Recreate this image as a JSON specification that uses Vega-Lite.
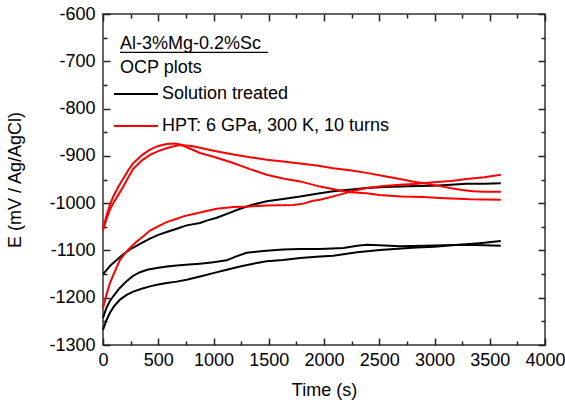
{
  "$schema": "https://vega.github.io/schema/vega-lite/v6.json",
  "width": 442,
  "height": 331,
  "autosize": "none",
  "padding": {"left": 103, "top": 14, "right": 20, "bottom": 59},
  "config": {
    "font": "Liberation Sans",
    "view": {"stroke": "#333", "strokeWidth": 1.5},
    "axis": {
      "grid": false,
      "domain": false,
      "labelFont": "Liberation Sans",
      "labelFontSize": 18,
      "labelColor": "#000",
      "labelOverlap": false,
      "labelFlush": false,
      "titleFont": "Liberation Sans",
      "titleFontSize": 18,
      "titleFontWeight": "normal",
      "titleColor": "#000",
      "tickColor": "#222",
      "tickWidth": 1.5
    }
  },
  "datasets": {
    "black": [
      {"run": "S1", "group": "Solution treated", "t": 0, "v": -1150},
      {"run": "S1", "group": "Solution treated", "t": 30, "v": -1142},
      {"run": "S1", "group": "Solution treated", "t": 63, "v": -1133},
      {"run": "S1", "group": "Solution treated", "t": 124, "v": -1120},
      {"run": "S1", "group": "Solution treated", "t": 184, "v": -1108},
      {"run": "S1", "group": "Solution treated", "t": 244, "v": -1098},
      {"run": "S1", "group": "Solution treated", "t": 335, "v": -1086},
      {"run": "S1", "group": "Solution treated", "t": 425, "v": -1075},
      {"run": "S1", "group": "Solution treated", "t": 500, "v": -1067},
      {"run": "S1", "group": "Solution treated", "t": 576, "v": -1061},
      {"run": "S1", "group": "Solution treated", "t": 667, "v": -1054},
      {"run": "S1", "group": "Solution treated", "t": 757, "v": -1047},
      {"run": "S1", "group": "Solution treated", "t": 878, "v": -1042},
      {"run": "S1", "group": "Solution treated", "t": 938, "v": -1037},
      {"run": "S1", "group": "Solution treated", "t": 1029, "v": -1031},
      {"run": "S1", "group": "Solution treated", "t": 1140, "v": -1021},
      {"run": "S1", "group": "Solution treated", "t": 1240, "v": -1012},
      {"run": "S1", "group": "Solution treated", "t": 1360, "v": -1003},
      {"run": "S1", "group": "Solution treated", "t": 1481, "v": -996},
      {"run": "S1", "group": "Solution treated", "t": 1630, "v": -991},
      {"run": "S1", "group": "Solution treated", "t": 1783, "v": -986},
      {"run": "S1", "group": "Solution treated", "t": 1964, "v": -979},
      {"run": "S1", "group": "Solution treated", "t": 2084, "v": -975},
      {"run": "S1", "group": "Solution treated", "t": 2250, "v": -971},
      {"run": "S1", "group": "Solution treated", "t": 2386, "v": -968},
      {"run": "S1", "group": "Solution treated", "t": 2550, "v": -966},
      {"run": "S1", "group": "Solution treated", "t": 2688, "v": -965},
      {"run": "S1", "group": "Solution treated", "t": 2850, "v": -964},
      {"run": "S1", "group": "Solution treated", "t": 2990, "v": -963},
      {"run": "S1", "group": "Solution treated", "t": 3150, "v": -961},
      {"run": "S1", "group": "Solution treated", "t": 3290, "v": -959},
      {"run": "S1", "group": "Solution treated", "t": 3450, "v": -959},
      {"run": "S1", "group": "Solution treated", "t": 3600, "v": -958},

      {"run": "S2", "group": "Solution treated", "t": 0, "v": -1243},
      {"run": "S2", "group": "Solution treated", "t": 30, "v": -1222},
      {"run": "S2", "group": "Solution treated", "t": 60, "v": -1208},
      {"run": "S2", "group": "Solution treated", "t": 93, "v": -1197},
      {"run": "S2", "group": "Solution treated", "t": 150, "v": -1180},
      {"run": "S2", "group": "Solution treated", "t": 214, "v": -1165},
      {"run": "S2", "group": "Solution treated", "t": 270, "v": -1154},
      {"run": "S2", "group": "Solution treated", "t": 335, "v": -1146},
      {"run": "S2", "group": "Solution treated", "t": 400, "v": -1141},
      {"run": "S2", "group": "Solution treated", "t": 486, "v": -1137},
      {"run": "S2", "group": "Solution treated", "t": 580, "v": -1134},
      {"run": "S2", "group": "Solution treated", "t": 667, "v": -1132},
      {"run": "S2", "group": "Solution treated", "t": 780, "v": -1130},
      {"run": "S2", "group": "Solution treated", "t": 878, "v": -1128},
      {"run": "S2", "group": "Solution treated", "t": 1000, "v": -1125},
      {"run": "S2", "group": "Solution treated", "t": 1119, "v": -1121},
      {"run": "S2", "group": "Solution treated", "t": 1200, "v": -1113},
      {"run": "S2", "group": "Solution treated", "t": 1300, "v": -1105},
      {"run": "S2", "group": "Solution treated", "t": 1450, "v": -1101},
      {"run": "S2", "group": "Solution treated", "t": 1631, "v": -1098},
      {"run": "S2", "group": "Solution treated", "t": 1783, "v": -1097},
      {"run": "S2", "group": "Solution treated", "t": 1964, "v": -1097},
      {"run": "S2", "group": "Solution treated", "t": 2175, "v": -1095},
      {"run": "S2", "group": "Solution treated", "t": 2300, "v": -1090},
      {"run": "S2", "group": "Solution treated", "t": 2386, "v": -1088},
      {"run": "S2", "group": "Solution treated", "t": 2500, "v": -1089},
      {"run": "S2", "group": "Solution treated", "t": 2688, "v": -1091},
      {"run": "S2", "group": "Solution treated", "t": 2900, "v": -1090},
      {"run": "S2", "group": "Solution treated", "t": 3100, "v": -1089},
      {"run": "S2", "group": "Solution treated", "t": 3300, "v": -1088},
      {"run": "S2", "group": "Solution treated", "t": 3450, "v": -1089},
      {"run": "S2", "group": "Solution treated", "t": 3600, "v": -1090},

      {"run": "S3", "group": "Solution treated", "t": 0, "v": -1268},
      {"run": "S3", "group": "Solution treated", "t": 30, "v": -1248},
      {"run": "S3", "group": "Solution treated", "t": 63, "v": -1232},
      {"run": "S3", "group": "Solution treated", "t": 100, "v": -1218},
      {"run": "S3", "group": "Solution treated", "t": 154, "v": -1204},
      {"run": "S3", "group": "Solution treated", "t": 214, "v": -1194},
      {"run": "S3", "group": "Solution treated", "t": 274, "v": -1187},
      {"run": "S3", "group": "Solution treated", "t": 350, "v": -1181},
      {"run": "S3", "group": "Solution treated", "t": 425, "v": -1176},
      {"run": "S3", "group": "Solution treated", "t": 500, "v": -1172},
      {"run": "S3", "group": "Solution treated", "t": 576, "v": -1169},
      {"run": "S3", "group": "Solution treated", "t": 667, "v": -1166},
      {"run": "S3", "group": "Solution treated", "t": 757, "v": -1162},
      {"run": "S3", "group": "Solution treated", "t": 878, "v": -1155},
      {"run": "S3", "group": "Solution treated", "t": 998, "v": -1148},
      {"run": "S3", "group": "Solution treated", "t": 1120, "v": -1141},
      {"run": "S3", "group": "Solution treated", "t": 1240, "v": -1134},
      {"run": "S3", "group": "Solution treated", "t": 1360, "v": -1128},
      {"run": "S3", "group": "Solution treated", "t": 1481, "v": -1123},
      {"run": "S3", "group": "Solution treated", "t": 1630, "v": -1120},
      {"run": "S3", "group": "Solution treated", "t": 1783, "v": -1116},
      {"run": "S3", "group": "Solution treated", "t": 1964, "v": -1113},
      {"run": "S3", "group": "Solution treated", "t": 2084, "v": -1111},
      {"run": "S3", "group": "Solution treated", "t": 2300, "v": -1104},
      {"run": "S3", "group": "Solution treated", "t": 2507, "v": -1099},
      {"run": "S3", "group": "Solution treated", "t": 2700, "v": -1096},
      {"run": "S3", "group": "Solution treated", "t": 2838, "v": -1094},
      {"run": "S3", "group": "Solution treated", "t": 3000, "v": -1092},
      {"run": "S3", "group": "Solution treated", "t": 3150, "v": -1089},
      {"run": "S3", "group": "Solution treated", "t": 3290, "v": -1087},
      {"run": "S3", "group": "Solution treated", "t": 3450, "v": -1084},
      {"run": "S3", "group": "Solution treated", "t": 3600, "v": -1080}
    ],
    "red": [
      {"run": "H1", "group": "HPT: 6 GPa, 300 K, 10 turns", "t": 0, "v": -1055},
      {"run": "H1", "group": "HPT: 6 GPa, 300 K, 10 turns", "t": 30, "v": -1028},
      {"run": "H1", "group": "HPT: 6 GPa, 300 K, 10 turns", "t": 60, "v": -1005},
      {"run": "H1", "group": "HPT: 6 GPa, 300 K, 10 turns", "t": 93, "v": -986},
      {"run": "H1", "group": "HPT: 6 GPa, 300 K, 10 turns", "t": 140, "v": -965},
      {"run": "H1", "group": "HPT: 6 GPa, 300 K, 10 turns", "t": 184, "v": -948},
      {"run": "H1", "group": "HPT: 6 GPa, 300 K, 10 turns", "t": 230, "v": -930},
      {"run": "H1", "group": "HPT: 6 GPa, 300 K, 10 turns", "t": 272, "v": -916},
      {"run": "H1", "group": "HPT: 6 GPa, 300 K, 10 turns", "t": 350, "v": -899},
      {"run": "H1", "group": "HPT: 6 GPa, 300 K, 10 turns", "t": 425, "v": -887},
      {"run": "H1", "group": "HPT: 6 GPa, 300 K, 10 turns", "t": 500, "v": -879},
      {"run": "H1", "group": "HPT: 6 GPa, 300 K, 10 turns", "t": 576, "v": -875},
      {"run": "H1", "group": "HPT: 6 GPa, 300 K, 10 turns", "t": 650, "v": -874},
      {"run": "H1", "group": "HPT: 6 GPa, 300 K, 10 turns", "t": 700, "v": -876},
      {"run": "H1", "group": "HPT: 6 GPa, 300 K, 10 turns", "t": 780, "v": -884},
      {"run": "H1", "group": "HPT: 6 GPa, 300 K, 10 turns", "t": 878, "v": -894},
      {"run": "H1", "group": "HPT: 6 GPa, 300 K, 10 turns", "t": 1000, "v": -902},
      {"run": "H1", "group": "HPT: 6 GPa, 300 K, 10 turns", "t": 1179, "v": -915},
      {"run": "H1", "group": "HPT: 6 GPa, 300 K, 10 turns", "t": 1330, "v": -928},
      {"run": "H1", "group": "HPT: 6 GPa, 300 K, 10 turns", "t": 1481, "v": -940},
      {"run": "H1", "group": "HPT: 6 GPa, 300 K, 10 turns", "t": 1630, "v": -948},
      {"run": "H1", "group": "HPT: 6 GPa, 300 K, 10 turns", "t": 1783, "v": -954},
      {"run": "H1", "group": "HPT: 6 GPa, 300 K, 10 turns", "t": 1964, "v": -965},
      {"run": "H1", "group": "HPT: 6 GPa, 300 K, 10 turns", "t": 2100, "v": -971},
      {"run": "H1", "group": "HPT: 6 GPa, 300 K, 10 turns", "t": 2235, "v": -977},
      {"run": "H1", "group": "HPT: 6 GPa, 300 K, 10 turns", "t": 2386, "v": -979},
      {"run": "H1", "group": "HPT: 6 GPa, 300 K, 10 turns", "t": 2500, "v": -983},
      {"run": "H1", "group": "HPT: 6 GPa, 300 K, 10 turns", "t": 2700, "v": -986},
      {"run": "H1", "group": "HPT: 6 GPa, 300 K, 10 turns", "t": 2900, "v": -987},
      {"run": "H1", "group": "HPT: 6 GPa, 300 K, 10 turns", "t": 3050, "v": -989},
      {"run": "H1", "group": "HPT: 6 GPa, 300 K, 10 turns", "t": 3321, "v": -992},
      {"run": "H1", "group": "HPT: 6 GPa, 300 K, 10 turns", "t": 3600, "v": -993},

      {"run": "H2", "group": "HPT: 6 GPa, 300 K, 10 turns", "t": 0, "v": -1058},
      {"run": "H2", "group": "HPT: 6 GPa, 300 K, 10 turns", "t": 30, "v": -1035},
      {"run": "H2", "group": "HPT: 6 GPa, 300 K, 10 turns", "t": 60, "v": -1015},
      {"run": "H2", "group": "HPT: 6 GPa, 300 K, 10 turns", "t": 93, "v": -1000},
      {"run": "H2", "group": "HPT: 6 GPa, 300 K, 10 turns", "t": 140, "v": -982},
      {"run": "H2", "group": "HPT: 6 GPa, 300 K, 10 turns", "t": 184, "v": -965},
      {"run": "H2", "group": "HPT: 6 GPa, 300 K, 10 turns", "t": 230, "v": -945},
      {"run": "H2", "group": "HPT: 6 GPa, 300 K, 10 turns", "t": 272, "v": -928},
      {"run": "H2", "group": "HPT: 6 GPa, 300 K, 10 turns", "t": 350, "v": -910},
      {"run": "H2", "group": "HPT: 6 GPa, 300 K, 10 turns", "t": 425, "v": -898},
      {"run": "H2", "group": "HPT: 6 GPa, 300 K, 10 turns", "t": 500, "v": -890},
      {"run": "H2", "group": "HPT: 6 GPa, 300 K, 10 turns", "t": 576, "v": -884},
      {"run": "H2", "group": "HPT: 6 GPa, 300 K, 10 turns", "t": 650, "v": -879},
      {"run": "H2", "group": "HPT: 6 GPa, 300 K, 10 turns", "t": 700, "v": -877},
      {"run": "H2", "group": "HPT: 6 GPa, 300 K, 10 turns", "t": 800, "v": -879},
      {"run": "H2", "group": "HPT: 6 GPa, 300 K, 10 turns", "t": 878, "v": -883},
      {"run": "H2", "group": "HPT: 6 GPa, 300 K, 10 turns", "t": 1000, "v": -889},
      {"run": "H2", "group": "HPT: 6 GPa, 300 K, 10 turns", "t": 1179, "v": -897},
      {"run": "H2", "group": "HPT: 6 GPa, 300 K, 10 turns", "t": 1330, "v": -903},
      {"run": "H2", "group": "HPT: 6 GPa, 300 K, 10 turns", "t": 1481, "v": -908},
      {"run": "H2", "group": "HPT: 6 GPa, 300 K, 10 turns", "t": 1630, "v": -912},
      {"run": "H2", "group": "HPT: 6 GPa, 300 K, 10 turns", "t": 1783, "v": -916},
      {"run": "H2", "group": "HPT: 6 GPa, 300 K, 10 turns", "t": 1950, "v": -921},
      {"run": "H2", "group": "HPT: 6 GPa, 300 K, 10 turns", "t": 2084, "v": -926},
      {"run": "H2", "group": "HPT: 6 GPa, 300 K, 10 turns", "t": 2250, "v": -931},
      {"run": "H2", "group": "HPT: 6 GPa, 300 K, 10 turns", "t": 2386, "v": -936},
      {"run": "H2", "group": "HPT: 6 GPa, 300 K, 10 turns", "t": 2550, "v": -943},
      {"run": "H2", "group": "HPT: 6 GPa, 300 K, 10 turns", "t": 2688, "v": -949},
      {"run": "H2", "group": "HPT: 6 GPa, 300 K, 10 turns", "t": 2800, "v": -954},
      {"run": "H2", "group": "HPT: 6 GPa, 300 K, 10 turns", "t": 2929, "v": -959},
      {"run": "H2", "group": "HPT: 6 GPa, 300 K, 10 turns", "t": 3050, "v": -964},
      {"run": "H2", "group": "HPT: 6 GPa, 300 K, 10 turns", "t": 3140, "v": -968},
      {"run": "H2", "group": "HPT: 6 GPa, 300 K, 10 turns", "t": 3250, "v": -972},
      {"run": "H2", "group": "HPT: 6 GPa, 300 K, 10 turns", "t": 3348, "v": -975},
      {"run": "H2", "group": "HPT: 6 GPa, 300 K, 10 turns", "t": 3450, "v": -976},
      {"run": "H2", "group": "HPT: 6 GPa, 300 K, 10 turns", "t": 3600, "v": -976},

      {"run": "H3", "group": "HPT: 6 GPa, 300 K, 10 turns", "t": 0, "v": -1222},
      {"run": "H3", "group": "HPT: 6 GPa, 300 K, 10 turns", "t": 30, "v": -1195},
      {"run": "H3", "group": "HPT: 6 GPa, 300 K, 10 turns", "t": 63, "v": -1169},
      {"run": "H3", "group": "HPT: 6 GPa, 300 K, 10 turns", "t": 100, "v": -1148},
      {"run": "H3", "group": "HPT: 6 GPa, 300 K, 10 turns", "t": 154, "v": -1120},
      {"run": "H3", "group": "HPT: 6 GPa, 300 K, 10 turns", "t": 200, "v": -1106},
      {"run": "H3", "group": "HPT: 6 GPa, 300 K, 10 turns", "t": 244, "v": -1095},
      {"run": "H3", "group": "HPT: 6 GPa, 300 K, 10 turns", "t": 300, "v": -1082},
      {"run": "H3", "group": "HPT: 6 GPa, 300 K, 10 turns", "t": 365, "v": -1070},
      {"run": "H3", "group": "HPT: 6 GPa, 300 K, 10 turns", "t": 425, "v": -1058},
      {"run": "H3", "group": "HPT: 6 GPa, 300 K, 10 turns", "t": 516, "v": -1047},
      {"run": "H3", "group": "HPT: 6 GPa, 300 K, 10 turns", "t": 576, "v": -1040},
      {"run": "H3", "group": "HPT: 6 GPa, 300 K, 10 turns", "t": 667, "v": -1033},
      {"run": "H3", "group": "HPT: 6 GPa, 300 K, 10 turns", "t": 727, "v": -1028},
      {"run": "H3", "group": "HPT: 6 GPa, 300 K, 10 turns", "t": 878, "v": -1020},
      {"run": "H3", "group": "HPT: 6 GPa, 300 K, 10 turns", "t": 1029, "v": -1012},
      {"run": "H3", "group": "HPT: 6 GPa, 300 K, 10 turns", "t": 1179, "v": -1008},
      {"run": "H3", "group": "HPT: 6 GPa, 300 K, 10 turns", "t": 1330, "v": -1007},
      {"run": "H3", "group": "HPT: 6 GPa, 300 K, 10 turns", "t": 1481, "v": -1005},
      {"run": "H3", "group": "HPT: 6 GPa, 300 K, 10 turns", "t": 1722, "v": -1004},
      {"run": "H3", "group": "HPT: 6 GPa, 300 K, 10 turns", "t": 1813, "v": -1001},
      {"run": "H3", "group": "HPT: 6 GPa, 300 K, 10 turns", "t": 1900, "v": -995},
      {"run": "H3", "group": "HPT: 6 GPa, 300 K, 10 turns", "t": 1964, "v": -993},
      {"run": "H3", "group": "HPT: 6 GPa, 300 K, 10 turns", "t": 2145, "v": -982},
      {"run": "H3", "group": "HPT: 6 GPa, 300 K, 10 turns", "t": 2250, "v": -975},
      {"run": "H3", "group": "HPT: 6 GPa, 300 K, 10 turns", "t": 2386, "v": -968},
      {"run": "H3", "group": "HPT: 6 GPa, 300 K, 10 turns", "t": 2536, "v": -964},
      {"run": "H3", "group": "HPT: 6 GPa, 300 K, 10 turns", "t": 2688, "v": -961},
      {"run": "H3", "group": "HPT: 6 GPa, 300 K, 10 turns", "t": 2850, "v": -959},
      {"run": "H3", "group": "HPT: 6 GPa, 300 K, 10 turns", "t": 2990, "v": -956},
      {"run": "H3", "group": "HPT: 6 GPa, 300 K, 10 turns", "t": 3150, "v": -953},
      {"run": "H3", "group": "HPT: 6 GPa, 300 K, 10 turns", "t": 3290, "v": -949},
      {"run": "H3", "group": "HPT: 6 GPa, 300 K, 10 turns", "t": 3450, "v": -945},
      {"run": "H3", "group": "HPT: 6 GPa, 300 K, 10 turns", "t": 3600, "v": -940}
    ]
  },
  "layer": [
    {
      "data": {"name": "black"},
      "mark": {"type": "line", "strokeWidth": 2},
      "encoding": {
        "x": {
          "field": "t", "type": "quantitative",
          "scale": {"domain": [0, 4000], "nice": false, "zero": false},
          "axis": {"orient": "bottom", "values": [0, 500, 1000, 1500, 2000, 2500, 3000, 3500, 4000], "ticks": false, "labelPadding": 6, "labelExpr": "'' + datum.value", "title": "Time (s)", "titlePadding": 12}
        },
        "y": {
          "field": "v", "type": "quantitative",
          "scale": {"domain": [-1300, -600], "nice": false, "zero": false},
          "axis": {"orient": "left", "values": [-1300, -1200, -1100, -1000, -900, -800, -700, -600], "ticks": false, "labelPadding": 8, "labelExpr": "'' + datum.value", "title": "E (mV / Ag/AgCl)", "titlePadding": 24}
        },
        "color": {
          "field": "group", "type": "nominal",
          "scale": {"domain": ["Solution treated", "HPT: 6 GPa, 300 K, 10 turns"], "range": ["#000000", "#ff0000"]},
          "legend": {"orient": "none", "legendX": 10, "legendY": 57, "title": null, "symbolType": "stroke", "symbolSize": 1936, "symbolStrokeWidth": 2, "labelFontSize": 18, "labelFont": "Liberation Sans", "labelColor": "#000", "labelOffset": 3, "labelLimit": 400, "rowPadding": -20, "padding": 0}
        },
        "detail": {"field": "run", "type": "nominal"},
        "order": {"field": "t", "type": "quantitative"}
      }
    },
    {
      "data": {"name": "red"},
      "mark": {"type": "line", "strokeWidth": 2},
      "encoding": {
        "x": {"field": "t", "type": "quantitative", "axis": {"orient": "bottom", "values": [0, 500, 1000, 1500, 2000, 2500, 3000, 3500, 4000], "labels": false, "ticks": true, "tickSize": -7, "tickColor": "#222", "title": null}},
        "y": {"field": "v", "type": "quantitative", "axis": {"orient": "left", "values": [-1300, -1200, -1100, -1000, -900, -800, -700, -600], "labels": false, "ticks": true, "tickSize": -7, "tickColor": "#222", "title": null}},
        "color": {
          "field": "group", "type": "nominal",
          "legend": {"orient": "none", "legendX": 10, "legendY": 57, "title": null, "symbolType": "stroke", "symbolSize": 1936, "symbolStrokeWidth": 2, "labelFontSize": 18, "labelFont": "Liberation Sans", "labelColor": "#000", "labelOffset": 3, "labelLimit": 400, "rowPadding": -20, "padding": 0}
        },
        "detail": {"field": "run", "type": "nominal"},
        "order": {"field": "t", "type": "quantitative"}
      }
    },
    {
      "data": {"values": [{"t": 154, "v": -675, "label": "Al-3%Mg-0.2%Sc"}]},
      "mark": {"type": "text", "align": "left", "baseline": "alphabetic", "fontSize": 18, "font": "Liberation Sans", "color": "#000"},
      "encoding": {
        "x": {"field": "t", "type": "quantitative", "axis": {"orient": "top", "values": [0, 500, 1000, 1500, 2000, 2500, 3000, 3500, 4000], "labels": false, "ticks": true, "tickSize": -7, "tickColor": "#222", "title": null}},
        "y": {"field": "v", "type": "quantitative", "axis": {"orient": "right", "values": [-1300, -1200, -1100, -1000, -900, -800, -700, -600], "labels": false, "ticks": true, "tickSize": -7, "tickColor": "#222", "title": null}},
        "text": {"field": "label"}
      }
    },
    {
      "data": {"values": [{"t": 154, "v": -724, "label": "OCP plots"}]},
      "mark": {"type": "text", "align": "left", "baseline": "alphabetic", "fontSize": 18, "font": "Liberation Sans", "color": "#000"},
      "encoding": {
        "x": {"field": "t", "type": "quantitative", "axis": {"orient": "bottom", "values": [250, 750, 1250, 1750, 2250, 2750, 3250, 3750], "labels": false, "ticks": true, "tickSize": -4, "tickColor": "#222", "title": null}},
        "y": {"field": "v", "type": "quantitative", "axis": {"orient": "left", "values": [-1250, -1150, -1050, -950, -850, -750, -650], "labels": false, "ticks": true, "tickSize": -4, "tickColor": "#222", "title": null}},
        "text": {"field": "label"}
      }
    },
    {
      "data": {"values": [{"t": 154, "t2": 1493, "v": -681}]},
      "mark": {"type": "rule", "strokeWidth": 1.2, "color": "#000"},
      "encoding": {
        "x": {"field": "t", "type": "quantitative", "axis": {"orient": "top", "values": [250, 750, 1250, 1750, 2250, 2750, 3250, 3750], "labels": false, "ticks": true, "tickSize": -4, "tickColor": "#222", "title": null}},
        "x2": {"field": "t2"},
        "y": {"field": "v", "type": "quantitative", "axis": {"orient": "right", "values": [-1250, -1150, -1050, -950, -850, -750, -650], "labels": false, "ticks": true, "tickSize": -4, "tickColor": "#222", "title": null}}
      }
    }
  ],
  "resolve": {"axis": {"x": "independent", "y": "independent"}}
}
